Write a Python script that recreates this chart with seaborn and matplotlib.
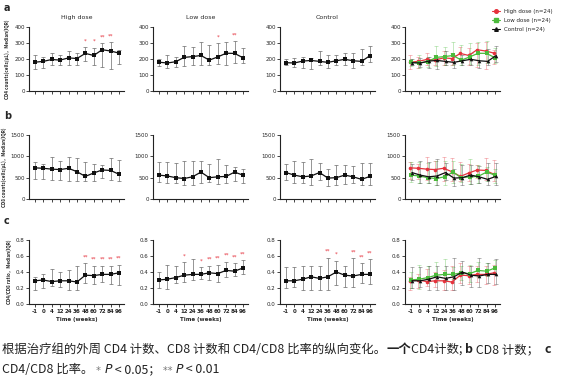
"""Cambios longitudinales de CD4, CD8 y CD4/CD8 por grupo de tratamiento."""

import matplotlib
matplotlib.use("Agg")
import matplotlib.pyplot as plt
from matplotlib.lines import Line2D
import numpy as np
import pandas as pd
import seaborn as sns

# ---------------------------------------------------------------------------
# Datos (mediana, Q1, Q3)
# ---------------------------------------------------------------------------
SEMANAS = ["-1", "0", "4", "12", "24", "36", "48", "60", "72", "84", "96"]
GRUPOS = ["High dose", "Low dose", "Control"]
LEYENDA = ["High dose (n=24)", "Low dose (n=24)", "Control (n=24)"]

# CD4 (cells/uL)
CD4_ALTA = [180, 185, 197, 193, 207, 203, 235, 222, 258, 250, 237]
CD4_ALTA_Q1 = [140, 145, 165, 160, 165, 165, 185, 160, 150, 135, 170]
CD4_ALTA_Q3 = [225, 210, 235, 225, 250, 240, 275, 270, 300, 305, 255]
CD4_BAJA = [180, 175, 183, 210, 215, 222, 193, 213, 236, 235, 208]
CD4_BAJA_Q1 = [155, 145, 150, 155, 160, 160, 165, 170, 165, 175, 175]
CD4_BAJA_Q3 = [200, 225, 210, 280, 275, 305, 290, 300, 305, 310, 270]
CD4_CTRL = [177, 175, 187, 191, 185, 179, 189, 198, 189, 185, 221]
CD4_CTRL_Q1 = [160, 150, 145, 140, 165, 145, 165, 160, 145, 160, 180]
CD4_CTRL_Q3 = [200, 205, 215, 205, 250, 225, 225, 235, 235, 265, 280]

# CD8 (cells/uL)
CD8_ALTA = [730, 720, 700, 690, 720, 640, 530, 610, 680, 670, 580]
CD8_ALTA_Q1 = [480, 460, 450, 440, 420, 420, 420, 430, 490, 440, 430]
CD8_ALTA_Q3 = [870, 820, 990, 900, 990, 950, 870, 820, 800, 960, 920]
CD8_BAJA = [560, 540, 500, 480, 520, 630, 500, 520, 530, 630, 560]
CD8_BAJA_Q1 = [390, 380, 370, 320, 320, 380, 400, 350, 380, 420, 380]
CD8_BAJA_Q3 = [870, 860, 850, 900, 900, 880, 820, 930, 790, 760, 710]
CD8_CTRL = [620, 560, 520, 540, 620, 490, 500, 560, 520, 460, 530]
CD8_CTRL_Q1 = [450, 380, 370, 330, 450, 300, 330, 360, 380, 320, 330]
CD8_CTRL_Q3 = [830, 890, 860, 930, 840, 700, 800, 800, 780, 850, 840]

# CD4/CD8
RAT_ALTA = [0.29, 0.30, 0.28, 0.29, 0.29, 0.275, 0.36, 0.355, 0.37, 0.37, 0.39]
RAT_ALTA_Q1 = [0.17, 0.20, 0.22, 0.21, 0.18, 0.17, 0.26, 0.25, 0.27, 0.25, 0.24]
RAT_ALTA_Q3 = [0.34, 0.37, 0.44, 0.40, 0.42, 0.47, 0.51, 0.48, 0.48, 0.48, 0.49]
RAT_BAJA = [0.30, 0.31, 0.33, 0.36, 0.37, 0.37, 0.39, 0.38, 0.42, 0.41, 0.45]
RAT_BAJA_Q1 = [0.20, 0.19, 0.26, 0.27, 0.30, 0.31, 0.30, 0.27, 0.34, 0.35, 0.37]
RAT_BAJA_Q3 = [0.40, 0.49, 0.47, 0.52, 0.56, 0.46, 0.48, 0.49, 0.53, 0.51, 0.55]
RAT_CTRL = [0.29, 0.29, 0.31, 0.34, 0.32, 0.34, 0.40, 0.36, 0.35, 0.37, 0.37]
RAT_CTRL_Q1 = [0.20, 0.21, 0.18, 0.18, 0.18, 0.18, 0.24, 0.21, 0.21, 0.26, 0.25]
RAT_CTRL_Q3 = [0.46, 0.46, 0.48, 0.48, 0.48, 0.58, 0.54, 0.47, 0.57, 0.51, 0.56]

# Significación frente a basal
SIG_CD4_ALTA = ["", "", "", "", "", "", "*", "*", "**", "**", ""]
SIG_CD4_BAJA = ["", "", "", "", "", "", "", "*", "", "**", ""]
SIG_CD4_CTRL = [""] * 11
SIG_CD8 = [""] * 11
SIG_RAT_ALTA = ["", "", "", "", "", "", "**", "**", "**", "**", "**"]
SIG_RAT_BAJA = ["", "", "", "*", "", "*", "**", "**", "**", "**", "**"]
SIG_RAT_CTRL = ["", "", "", "", "", "**", "*", "", "**", "**", "**"]

FILAS = [
    {
        "letra": "a",
        "ylabel": "CD4 counts(cells/μL)，Median(IQR)",
        "ylim": 400, "yticks": [0, 100, 200, 300, 400], "fmt": "{:.0f}",
        "series": [(CD4_ALTA, CD4_ALTA_Q1, CD4_ALTA_Q3, SIG_CD4_ALTA),
                   (CD4_BAJA, CD4_BAJA_Q1, CD4_BAJA_Q3, SIG_CD4_BAJA),
                   (CD4_CTRL, CD4_CTRL_Q1, CD4_CTRL_Q3, SIG_CD4_CTRL)],
    },
    {
        "letra": "b",
        "ylabel": "CD8 counts(cells/μL)，Median(IQR)",
        "ylim": 1500, "yticks": [0, 500, 1000, 1500], "fmt": "{:.0f}",
        "series": [(CD8_ALTA, CD8_ALTA_Q1, CD8_ALTA_Q3, SIG_CD8),
                   (CD8_BAJA, CD8_BAJA_Q1, CD8_BAJA_Q3, SIG_CD8),
                   (CD8_CTRL, CD8_CTRL_Q1, CD8_CTRL_Q3, SIG_CD8)],
    },
    {
        "letra": "c",
        "ylabel": "CD4/CD8 ratio，Median(IQR)",
        "ylim": 0.8, "yticks": [0, 0.2, 0.4, 0.6, 0.8], "fmt": "{:.1f}",
        "series": [(RAT_ALTA, RAT_ALTA_Q1, RAT_ALTA_Q3, SIG_RAT_ALTA),
                   (RAT_BAJA, RAT_BAJA_Q1, RAT_BAJA_Q3, SIG_RAT_BAJA),
                   (RAT_CTRL, RAT_CTRL_Q1, RAT_CTRL_Q3, SIG_RAT_CTRL)],
    },
]

# ---------------------------------------------------------------------------
# Estilo
# ---------------------------------------------------------------------------
ROJO = "#e5323c"
VERDE = "#4cbb3c"
NEGRO = "#111111"
GRIS_BARRA = "#6a6a6a"
COLORES = [ROJO, VERDE, NEGRO]
MARCADORES = ["o", "s", "^"]
DESPLAZ = [-0.12, 0.0, 0.12]

sns.set_style("ticks")
plt.rcParams["font.family"] = ["DejaVu Sans", "Noto Sans CJK SC"]
plt.rcParams.update({
    "axes.linewidth": 0.8,
    "xtick.major.width": 0.6,
    "ytick.major.width": 0.6,
    "xtick.major.size": 2,
    "ytick.major.size": 2,
    "xtick.major.pad": 1.5,
    "ytick.major.pad": 1.0,
    "xtick.labelsize": 4,
    "ytick.labelsize": 4,
})
CJK = ["Noto Sans CJK SC", "DejaVu Sans"]

fig = plt.figure(figsize=(5.62, 3.80), dpi=100)

IZQ = [29, 153, 280, 405]
ANCHO = 95
ARRIBA = [27, 135, 240]
ALTO = 64
W, H = 562.0, 380.0


def dibujar_serie(ax, med, q1, q3, x, color, marcador, color_barra, alfa):
    df = pd.DataFrame({"x": x, "mediana": med})
    sns.lineplot(data=df, x="x", y="mediana", ax=ax, color=color,
                 marker=marcador, markersize=2.6, markeredgewidth=0,
                 linewidth=0.9, legend=False, zorder=3)
    med = np.asarray(med)
    err = [med - np.asarray(q1), np.asarray(q3) - med]
    ax.errorbar(x, med, yerr=err, fmt="none", ecolor=color_barra,
                elinewidth=0.5, capsize=1.3, capthick=0.5, alpha=alfa, zorder=2)


def formatear(ax, fila, con_xlabels):
    ax.set_xlim(-0.7, 10.6)
    ax.set_ylim(0, fila["ylim"])
    ax.set_yticks(fila["yticks"])
    ax.set_yticklabels([fila["fmt"].format(v) for v in fila["yticks"]])
    ax.set_xticks(range(len(SEMANAS)))
    if con_xlabels:
        ax.set_xticklabels(SEMANAS, fontweight="bold")
        ax.set_xlabel("Time (weeks)", fontsize=4, fontweight="bold", labelpad=2)
    else:
        ax.set_xticklabels([])
        ax.set_xlabel("")
    ax.set_ylabel("")
    sns.despine(ax=ax)
    for s in ("left", "bottom"):
        ax.spines[s].set_color("#222222")


pos = np.arange(len(SEMANAS))
for r, fila in enumerate(FILAS):
    y0 = 1 - (ARRIBA[r] + ALTO) / H
    for c in range(4):
        ax = fig.add_axes([IZQ[c] / W, y0, ANCHO / W, ALTO / H])
        if c < 3:
            med, q1, q3, sig = fila["series"][c]
            dibujar_serie(ax, med, q1, q3, pos, NEGRO, "s", GRIS_BARRA, 1.0)
            for i, s in enumerate(sig):
                if s:
                    ax.text(i, q3[i] + 0.06 * fila["ylim"], s, color=ROJO,
                            fontsize=4, ha="center", va="bottom")
            if r == 0:
                ax.set_title(GRUPOS[c], fontsize=4.5, pad=6)
        else:
            for k in range(3):
                med, q1, q3, _ = fila["series"][k]
                dibujar_serie(ax, med, q1, q3, pos + DESPLAZ[k], COLORES[k],
                              MARCADORES[k], COLORES[k], 0.45)
        formatear(ax, fila, con_xlabels=(r == 2))
        if c == 0:
            ax.set_ylabel(fila["ylabel"], fontsize=3.3, fontweight="bold",
                          family=CJK, labelpad=3)
    fig.text(4 / W, 1 - (ARRIBA[r] - 19) / H, fila["letra"], fontsize=7,
             fontweight="bold", va="center", ha="left")

# Leyenda
manejadores = [Line2D([0], [0], color=COLORES[k], marker=MARCADORES[k],
                      markersize=2.6, linewidth=0.8) for k in range(3)]
fig.legend(manejadores, LEYENDA, loc="upper left",
           bbox_to_anchor=(487 / W, 1 - 4 / H), frameon=False, fontsize=4,
           handlelength=1.4, labelspacing=0.7, handletextpad=0.8)

# ---------------------------------------------------------------------------
# Pie de figura
# ---------------------------------------------------------------------------
cap = fig.add_axes([0, 0, 1, 1])
cap.axis("off")
cap.set_zorder(-1)

TAM = 8.9
GRIS_TEXTO = "#222222"
ESTRELLA = {"fontsize": 7, "color": "#777777", "family": ["DejaVu Sans"]}


def escribir_linea(x, y, trozos):
    prev = None
    for texto, estilo in trozos:
        kw = {"fontsize": TAM, "color": GRIS_TEXTO, "family": CJK}
        kw.update(estilo)
        if prev is None:
            prev = cap.text(x, y, texto, transform=fig.transFigure,
                            ha="left", va="bottom", **kw)
        else:
            prev = cap.annotate(texto, xy=(1, 0), xycoords=prev,
                                ha="left", va="bottom", **kw)


escribir_linea(2 / W, 1 - 356 / H, [
    ("根据治疗组的外周 CD4 计数、CD8 计数和 CD4/CD8 比率的纵向变化。", {}),
    ("一个", {"fontweight": "bold"}),
    ("CD4计数; ", {}),
    ("b", {"fontweight": "bold"}),
    (" CD8 计数；  ", {}),
    ("c", {"fontweight": "bold"}),
])
escribir_linea(2 / W, 1 - 376 / H, [
    ("CD4/CD8 比率。", {}),
    (" * ", ESTRELLA),
    ("P", {"style": "italic", "family": ["DejaVu Sans"]}),
    (" < 0.05； ", {}),
    ("** ", ESTRELLA),
    ("P", {"style": "italic", "family": ["DejaVu Sans"]}),
    (" < 0.01", {}),
])

fig.savefig("out.png", dpi=100)
